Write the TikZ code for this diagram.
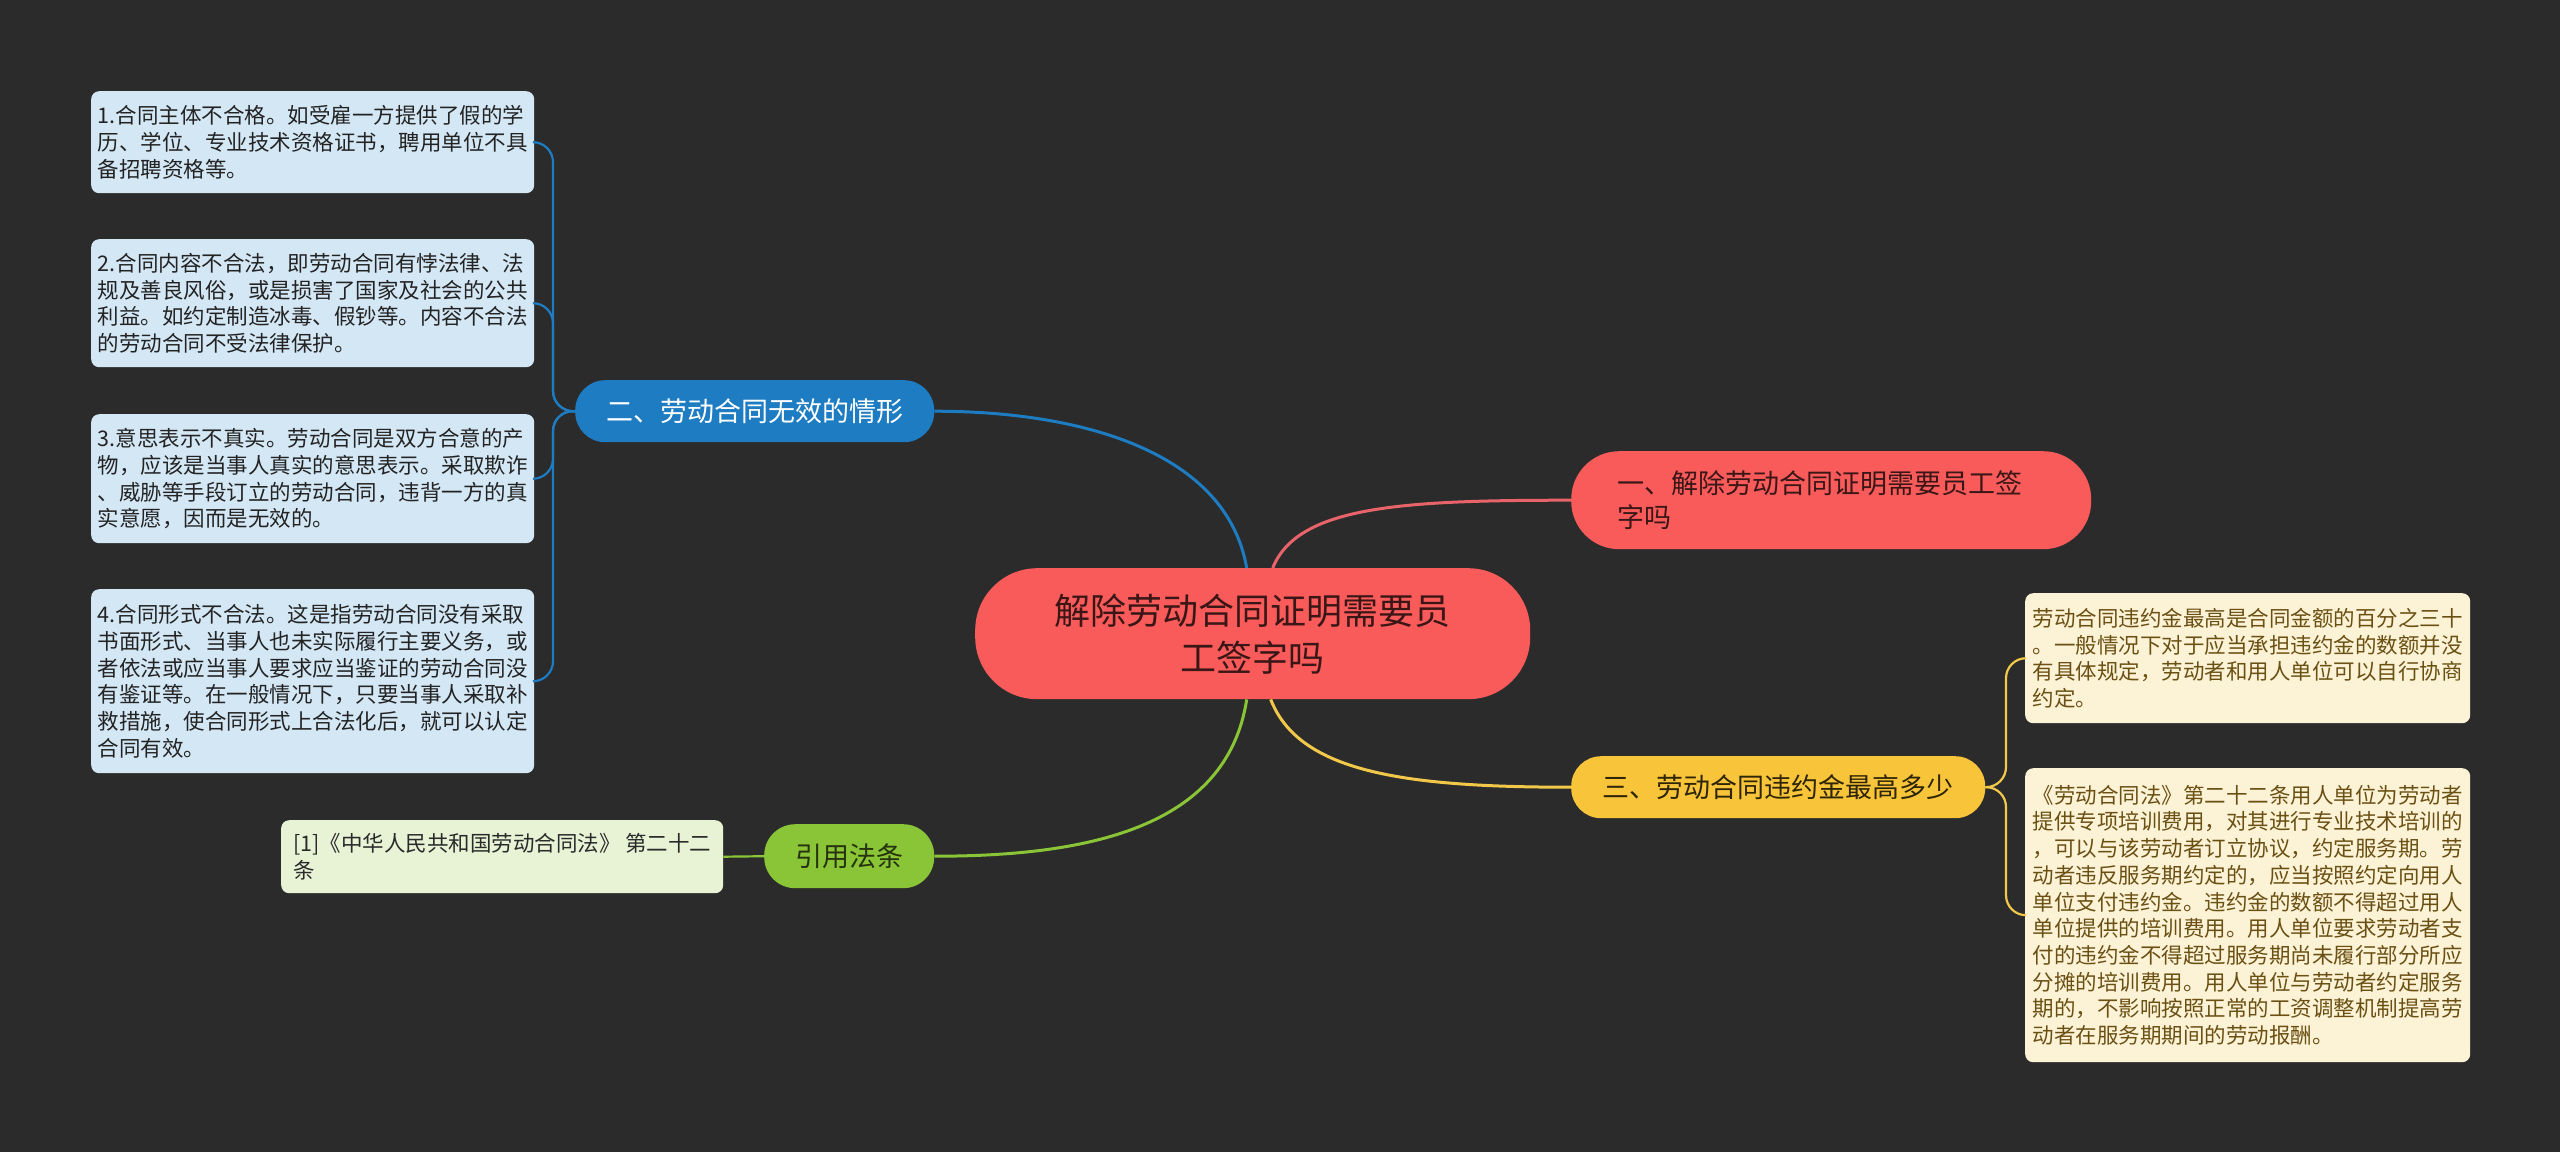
\documentclass[tikz,border=0pt]{standalone}
\usepackage{fontspec}
\setmainfont{Noto Sans CJK SC}
\definecolor{bg}{HTML}{2B2B2B}
\definecolor{rootfill}{HTML}{F95B5B}
\definecolor{roottext}{HTML}{3A1616}
\definecolor{bluefill}{HTML}{1E7CC2}
\definecolor{yellowfill}{HTML}{F8C53A}
\definecolor{yellowtext}{HTML}{2E2406}
\definecolor{greenfill}{HTML}{8AC437}
\definecolor{greentext}{HTML}{26330C}
\definecolor{leafbluefill}{HTML}{D4E7F5}
\definecolor{leafbluetext}{HTML}{232323}
\definecolor{leafcreamfill}{HTML}{FCF3D6}
\definecolor{leafcreamtext}{HTML}{6B5014}
\definecolor{leafgreenfill}{HTML}{E8F3D6}
\definecolor{leafgreentext}{HTML}{2A2A2A}
\definecolor{redline}{HTML}{E8646A}
\definecolor{yellowline}{HTML}{F2C84A}
\begin{document}
\begin{tikzpicture}[x=1pt,y=-1pt,
  leaf/.style={anchor=north west, inner sep=0pt, rounded corners=8pt, align=left,
    font=\fontsize{21.5}{26.7}\selectfont},
  leafblue/.style={leaf, fill=leafbluefill, text=leafbluetext},
  leafcream/.style={leaf, fill=leafcreamfill, text=leafcreamtext},
  leafgreen/.style={leaf, fill=leafgreenfill, text=leafgreentext},
  branch/.style={anchor=north west, inner sep=0pt, font=\fontsize{27}{34}\selectfont},
  mainline/.style={line width=3pt},
  subline/.style={line width=2.2pt, rounded corners=20pt},
]
\fill[bg] (0,0) rectangle (2560,1152);
\useasboundingbox (0,0) rectangle (2560,1152);

% root
\node[anchor=north west, inner sep=0pt, fill=rootfill, text=roottext, rounded corners=62pt,
  minimum width=555pt, minimum height=131pt, align=center,
  font=\fontsize{36}{47}\selectfont] (root) at (975,568)
  {解除劳动合同证明需要员\\工签字吗};

% branches
\node[branch, fill=rootfill, text=roottext, rounded corners=48pt, minimum width=520pt,
  minimum height=98pt, text width=428pt, align=left] (b1) at (1571,451)
  {一、解除劳动合同证明需要员工签\\字吗};
\node[branch, fill=bluefill, text=white, rounded corners=30pt, minimum width=359pt,
  minimum height=62pt] (b2) at (575,380) {二、劳动合同无效的情形};
\node[branch, fill=yellowfill, text=yellowtext, rounded corners=30pt, minimum width=414pt,
  minimum height=62pt] (b3) at (1571,756) {三、劳动合同违约金最高多少};
\node[branch, fill=greenfill, text=greentext, rounded corners=31pt, minimum width=170pt,
  minimum height=64pt] (b4) at (764,824) {引用法条};

% left leaves
\node[leafblue, minimum width=443pt, minimum height=102pt] (l1) at (91,91)
  {1.合同主体不合格。如受雇一方提供了假的学\\历、学位、专业技术资格证书，聘用单位不具\\备招聘资格等。};
\node[leafblue, minimum width=443pt, minimum height=128pt] (l2) at (91,239)
  {2.合同内容不合法，即劳动合同有悖法律、法\\规及善良风俗，或是损害了国家及社会的公共\\利益。如约定制造冰毒、假钞等。内容不合法\\的劳动合同不受法律保护。};
\node[leafblue, minimum width=443pt, minimum height=129pt] (l3) at (91,414)
  {3.意思表示不真实。劳动合同是双方合意的产\\物，应该是当事人真实的意思表示。采取欺诈\\、威胁等手段订立的劳动合同，违背一方的真\\实意愿，因而是无效的。};
\node[leafblue, minimum width=443pt, minimum height=184pt] (l4) at (91,589)
  {4.合同形式不合法。这是指劳动合同没有采取\\书面形式、当事人也未实际履行主要义务，或\\者依法或应当事人要求应当鉴证的劳动合同没\\有鉴证等。在一般情况下，只要当事人采取补\\救措施，使合同形式上合法化后，就可以认定\\合同有效。};

% citation leaf
\node[leafgreen, minimum width=442pt, minimum height=73pt] (c1) at (281,820)
  {[1]《中华人民共和国劳动合同法》 第二十二\\条};

% right leaves
\node[leafcream, minimum width=445pt, minimum height=130pt] (r1) at (2025,593)
  {劳动合同违约金最高是合同金额的百分之三十\\。一般情况下对于应当承担违约金的数额并没\\有具体规定，劳动者和用人单位可以自行协商\\约定。};
\node[leafcream, minimum width=445pt, minimum height=294pt] (r2) at (2025,768)
  {《劳动合同法》第二十二条用人单位为劳动者\\提供专项培训费用，对其进行专业技术培训的\\，可以与该劳动者订立协议，约定服务期。劳\\动者违反服务期约定的，应当按照约定向用人\\单位支付违约金。违约金的数额不得超过用人\\单位提供的培训费用。用人单位要求劳动者支\\付的违约金不得超过服务期尚未履行部分所应\\分摊的培训费用。用人单位与劳动者约定服务\\期的，不影响按照正常的工资调整机制提高劳\\动者在服务期期间的劳动报酬。};

% main connectors
\coordinate (rtB) at ([xshift=-6pt]root.north);
\coordinate (rtR) at ([xshift=20pt]root.north);
\coordinate (rbG) at ([xshift=-6pt]root.south);
\coordinate (rbY) at ([xshift=18pt]root.south);
\draw[mainline, redline] (rtR) .. controls +(25,-62) and +(-170,0) .. (b1.west);
\draw[mainline, bluefill] (rtB) .. controls +(-20,-115) and +(150,0) .. (b2.east);
\draw[mainline, greenfill] (rbG) .. controls +(-20,130) and +(150,0) .. (b4.east);
\draw[mainline, yellowline] (rbY) .. controls +(28,72) and +(-170,0) .. (b3.west);

% blue children
\foreach \n in {l1,l2,l3,l4}{
  \draw[subline, bluefill] (b2.west) -- (553,411) -- (553,0 |- \n.east) -- (\n.east);
}
% yellow children
\foreach \n in {r1,r2}{
  \draw[subline, yellowline] (b3.east) -- (2006,787) -- (2006,0 |- \n.west) -- (\n.west);
}
% green child
\draw[line width=2.2pt, greenfill] (b4.west) -- (c1.east);
\end{tikzpicture}
\end{document}
